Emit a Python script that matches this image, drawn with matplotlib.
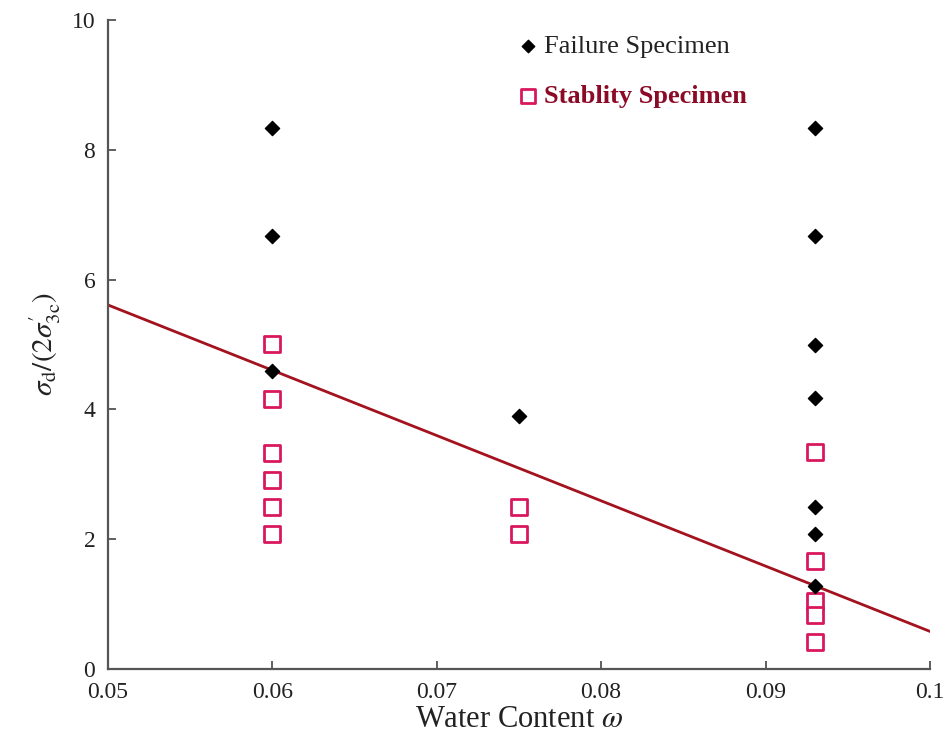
import matplotlib
matplotlib.use("Agg")
import matplotlib.pyplot as plt

plt.rcParams['font.family'] = ['Liberation Serif', 'DejaVu Serif']
plt.rcParams['mathtext.fontset'] = 'stix'

# Failure specimens
fail_x = [0.06, 0.06, 0.06, 0.075, 0.093, 0.093, 0.093, 0.093, 0.093, 0.093, 0.093]
fail_y = [8.33, 6.67, 4.59, 3.90, 8.33, 6.67, 5.00, 4.17, 2.50, 2.08, 1.28]

# Stability specimens
stab_x = [0.06, 0.06, 0.06, 0.06, 0.06, 0.06, 0.075, 0.075, 0.093, 0.093, 0.093, 0.093, 0.093]
stab_y = [5.01, 4.16, 3.33, 2.91, 2.50, 2.08, 2.50, 2.08, 3.34, 1.67, 1.05, 0.83, 0.42]

# Boundary line endpoints
line_x = [0.05, 0.10]
line_y = [5.61, 0.58]

x_ticks = [0.05, 0.06, 0.07, 0.08, 0.09, 0.1]
x_tick_labels = ['0.05', '0.06', '0.07', '0.08', '0.09', '0.1']
y_ticks = [0, 2, 4, 6, 8, 10]

PINK = '#d8175e'

fig = plt.figure(figsize=(9.46, 7.54), dpi=100)
ax = fig.add_axes([0.114, 0.1127, 0.869, 0.8608])

ax.plot(line_x, line_y, color='#a3121e', lw=2.0, zorder=2)
ax.scatter(stab_x, stab_y, marker='s', s=145, facecolors='white',
           edgecolors=PINK, linewidths=2.0, zorder=3)
ax.scatter(fail_x, fail_y, marker='D', s=52, color='black', zorder=4)

ax.set_xlim(0.05, 0.1)
ax.set_ylim(0, 10)
ax.set_xticks(x_ticks)
ax.set_xticklabels(x_tick_labels)
ax.set_yticks(y_ticks)
ax.tick_params(direction='in', length=6, width=1.2, labelsize=17,
               colors='#444444', labelcolor='#222222')
ax.tick_params(axis='x', pad=9)
ax.tick_params(axis='y', pad=9)
for s in ['top', 'right']:
    ax.spines[s].set_visible(False)
for s in ['left', 'bottom']:
    ax.spines[s].set_linewidth(1.6)
    ax.spines[s].set_color('#555555')

ax.set_xlabel(r'Water Content $\omega$', fontsize=22, labelpad=2, color='#222222')
ax.set_ylabel(r"$\sigma_\mathrm{d}/(2\sigma^{\prime}_\mathrm{3c})$", fontsize=21,
              labelpad=6, color='#222222')

# legend
h1 = ax.scatter([], [], marker='D', s=40, color='black')
h2 = ax.scatter([], [], marker='s', s=110, facecolors='white', edgecolors=PINK, linewidths=2.0)
leg = ax.legend([h1, h2], ['Failure Specimen', 'Stablity Specimen'], loc='upper left',
                bbox_to_anchor=(0.495, 0.977), frameon=False, fontsize=19,
                handlelength=1.0, handletextpad=0.1, labelspacing=1.0,
                borderpad=0.0, borderaxespad=0.0)
texts = leg.get_texts()
texts[0].set_color('#222222')
texts[1].set_color('#8b0a26')
texts[1].set_fontweight('bold')

fig.savefig('out.png', dpi=100)
